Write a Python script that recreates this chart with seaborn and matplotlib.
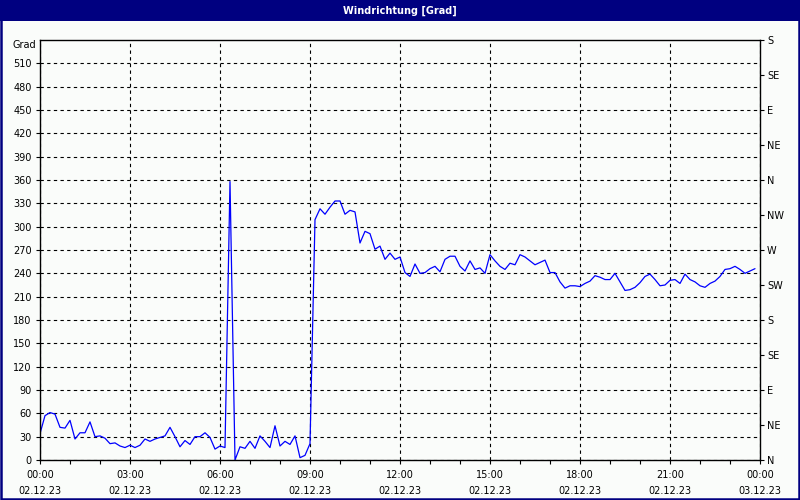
import pandas as pd
import matplotlib
matplotlib.use("Agg")
import matplotlib.pyplot as plt
from matplotlib.patches import Rectangle
import seaborn as sns

# Windrichtung, 10-Minuten-Werte vom 02.12.23
TITLE = "Windrichtung [Grad]"
UNIT = "Grad"
STEP_MIN = 10
direction = [
    34, 57, 61, 59, 42, 41, 51, 27, 35, 35, 49, 30, 31, 28, 21, 22, 18, 16,
    19, 16, 19, 27, 24, 27, 29, 31, 42, 30, 17, 25, 20, 30, 30, 35, 29, 14,
    18, 16, 358, 0, 17, 15, 24, 15, 31, 24, 16, 44, 18, 24, 20, 31, 3, 6,
    21, 309, 323, 316, 325, 333, 333, 316, 321, 319, 279, 294, 291, 271, 275, 258,
    266, 258, 261, 241, 236, 252, 240, 241, 246, 249, 242, 258, 262, 262, 249, 243,
    256, 245, 247, 240, 264, 256, 249, 245, 253, 251, 264, 261, 256, 251, 254, 257,
    241, 241, 229, 221, 224, 224, 223, 227, 230, 237, 235, 232, 232, 240, 229, 218,
    219, 222, 228, 236, 239, 232, 224, 225, 231, 232, 227, 239, 232, 229, 224, 222,
    227, 230, 236, 245, 246, 249, 245, 240, 243, 246,
]

x_ticks = [0, 3, 6, 9, 12, 15, 18, 21, 24]
x_labels = ["00:00\n02.12.23", "03:00\n02.12.23", "06:00\n02.12.23",
            "09:00\n02.12.23", "12:00\n02.12.23", "15:00\n02.12.23",
            "18:00\n02.12.23", "21:00\n02.12.23", "00:00\n03.12.23"]
y_ticks = list(range(0, 511, 30))
compass = ["N", "NE", "E", "SE", "S", "SW", "W", "NW", "N", "NE", "E", "SE", "S"]
compass_ticks = list(range(0, 541, 45))

NAVY = "#000080"
BG = "#FAFCFA"

df = pd.DataFrame({"stunde": [i * STEP_MIN / 60 for i in range(len(direction))],
                   "grad": direction})

sns.set_style("white")
plt.rcParams["font.family"] = ["DejaVu Sans"]
plt.rcParams["font.size"] = 7
plt.rcParams["text.color"] = "black"

fig = plt.figure(figsize=(8, 5), dpi=100, facecolor=BG)
ax = fig.add_axes([0.05, 0.08, 0.90, 0.84])
ax.set_facecolor(BG)

sns.lineplot(data=df, x="stunde", y="grad", ax=ax, color="#0000FF",
             linewidth=0.9, legend=False)

ax.set_xlim(0, 24)
ax.set_ylim(0, 540)
ax.set_xticks(x_ticks)
ax.set_xticklabels(x_labels, linespacing=1.75)
ax.set_xticks(range(0, 25), minor=True)
ax.set_yticks(y_ticks)
ax.set_xlabel("")
ax.set_ylabel("")

ax.grid(True, which="major", color="black", linestyle=(0, (3, 3)), linewidth=0.8)
ax.tick_params(axis="both", which="both", direction="out", length=3, width=0.8,
               color="black", labelcolor="black", labelsize=7, pad=3,
               bottom=True, left=True)
ax.tick_params(axis="x", which="major", pad=4)
for side in ["left", "right", "top", "bottom"]:
    ax.spines[side].set_visible(True)
    ax.spines[side].set_color("black")
    ax.spines[side].set_linewidth(1.0)

ax.text(-0.006, 1.0, UNIT, transform=ax.transAxes, ha="right", va="top",
        fontsize=7, color="black")

ax2 = ax.twinx()
ax2.set_ylim(0, 540)
ax2.set_yticks(compass_ticks)
ax2.set_yticklabels(compass)
ax2.tick_params(axis="y", direction="out", length=3, width=0.8, color="black",
                labelcolor="black", labelsize=7, pad=2, right=True)
ax2.grid(False)
for side in ["left", "right", "top", "bottom"]:
    ax2.spines[side].set_visible(False)

# Titelleiste und Rahmen
fig.patches.append(Rectangle((0, 0.958), 1, 0.042, transform=fig.transFigure,
                             facecolor=NAVY, edgecolor="none", zorder=0))
fig.patches.append(Rectangle((0.001, 0.002), 0.998, 0.996, transform=fig.transFigure,
                             facecolor="none", edgecolor=NAVY, linewidth=1.8, zorder=1))
fig.text(0.5, 0.979, TITLE, ha="center", va="center", color="white",
         fontsize=7, fontweight="bold")

plt.savefig("out.png", dpi=100, facecolor=BG)
